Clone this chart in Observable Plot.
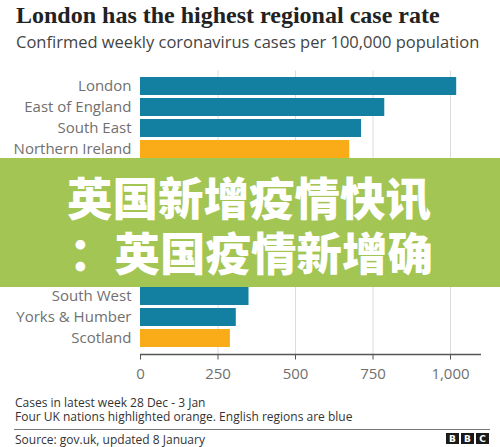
<!DOCTYPE html>
<html>
<head>
<meta charset="utf-8">
<script src="https://cdn.jsdelivr.net/npm/d3@7"></script>
<script src="https://cdn.jsdelivr.net/npm/@observablehq/plot@0.6"></script>
<style>
  html, body { margin: 0; padding: 0; }
  body { width: 500px; height: 447px; overflow: hidden; background: #fff; position: relative; font-family: "Open Sans", sans-serif; }
  #title { position: absolute; left: 16px; top: 0px; font-family: "Liberation Serif", serif; font-weight: bold; font-size: 24px; color: #222; white-space: nowrap; line-height: 30px; }
  #subtitle { position: absolute; left: 16px; top: 31px; font-size: 16.5px; color: #444; white-space: nowrap; line-height: 22px; }
  #chart { position: absolute; left: 0; top: 60px; }
  #note { position: absolute; left: 15px; top: 396px; font-size: 12px; color: #333; line-height: 13.5px; white-space: nowrap; }
  #rule { position: absolute; left: 14px; top: 429px; width: 476px; height: 1px; background: #777; }
  #source { position: absolute; left: 15px; top: 432px; font-size: 12px; color: #333; line-height: 15px; white-space: nowrap; }
  #bbc { position: absolute; left: 446px; top: 433px; display: flex; gap: 2px; }
  #bbc span { width: 13px; height: 11px; background: #1a1a1a; color: #fff; font: bold 9px "DejaVu Sans", sans-serif; display: flex; align-items: center; justify-content: center; }
  #banner { position: absolute; left: 0; top: 158px; width: 500px; height: 129px; background: #a3c553; z-index: 5; }
  .bl { position: absolute; color: #fff; font-family: "Noto Sans CJK SC", sans-serif; font-weight: 900; white-space: nowrap; line-height: 1; font-size: 45.5px; }
  #b1 { left: 67px; top: 15.5px; }
  #b2 { left: 69px; top: 70.5px; }
</style>
</head>
<body>
<div id="title">London has the highest regional case rate</div>
<div id="subtitle">Confirmed weekly coronavirus cases per 100,000 population</div>
<div id="chart"></div>
<div id="banner"><div class="bl" id="b1">英国新增疫情快讯</div><div class="bl" id="b2">：英国疫情新增确</div></div>
<div id="note">Cases in latest week 28 Dec - 3 Jan<br>Four UK nations highlighted orange. English regions are blue</div>
<div id="rule"></div>
<div id="source">Source: gov.uk, updated 8 January</div>
<div id="bbc"><span>B</span><span>B</span><span>C</span></div>
<script>
const regions = ["London", "East of England", "South East", "Northern Ireland", "Wales", "England", "North West", "West Midlands", "East Midlands", "North East", "South West", "Yorks & Humber", "Scotland"];
const cases = [1020, 788, 713, 675, 640, 595, 560, 520, 480, 429, 350, 309, 290];
const nations = ["Northern Ireland", "Wales", "England", "Scotland"];
const xTicks = [0, 250, 500, 750, 1000];
const xMax = 1100;

const data = regions.map((r, i) => ({region: r, cases: cases[i], group: nations.includes(r) ? "nation" : "region"}));
const fmt = d3.format(",");

const chart = Plot.plot({
  width: 500,
  height: 325,
  marginTop: 10.5,
  marginBottom: 30.5,
  marginLeft: 140,
  marginRight: 19,
  style: {fontFamily: "Open Sans, sans-serif", fontSize: "15px", color: "#707070", background: "transparent"},
  x: {domain: [0, xMax], label: null},
  y: {domain: regions, label: null, paddingInner: 0.13, paddingOuter: 0.065},
  color: {domain: ["region", "nation"], range: ["#1380a1", "#faab18"]},
  marks: [
    Plot.ruleX(xTicks.slice(1), {stroke: "#dcdcdc", strokeWidth: 1}),
    Plot.barX(data, {x: "cases", y: "region", fill: "group"}),
    Plot.axisX({ticks: xTicks, tickFormat: fmt, tickSize: 5, tickPadding: 8, stroke: "#555", fontSize: 15, label: null}),
    Plot.axisY({tickSize: 0, tickPadding: 9, fontSize: 15, label: null})
  ]
});
document.getElementById("chart").appendChild(chart);

// baseline of the x axis, drawn from the plot's own scales
const xs = chart.scale("x");
const ys = chart.scale("y");
const yBottom = ys.range[1];
d3.select(chart).append("line")
  .attr("x1", xs.apply(0)).attr("x2", xs.apply(xMax))
  .attr("y1", yBottom).attr("y2", yBottom)
  .attr("stroke", "#555").attr("stroke-width", 1.3);
</script>
</body>
</html>
